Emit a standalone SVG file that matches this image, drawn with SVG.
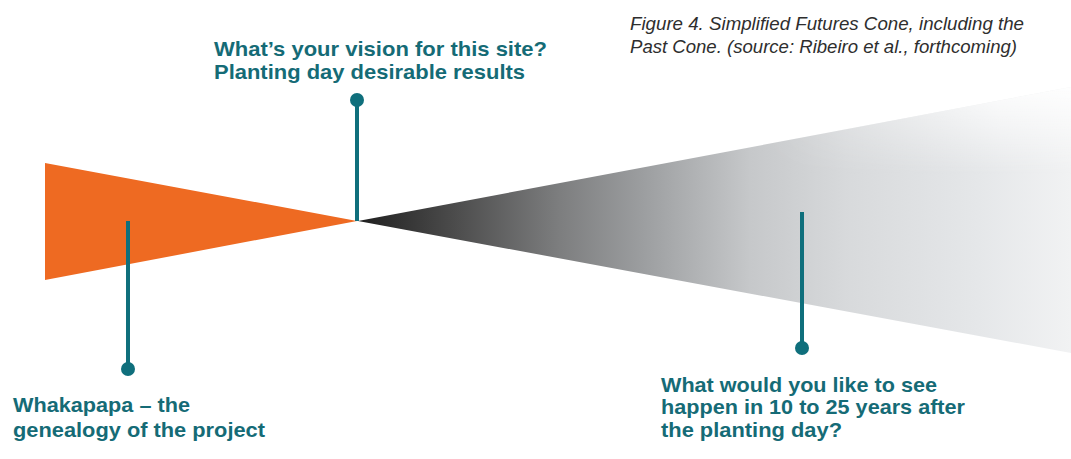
<svg xmlns="http://www.w3.org/2000/svg" width="1071" height="459" viewBox="0 0 1071 459">
<defs>
<linearGradient id="futureGrad" gradientUnits="userSpaceOnUse" x1="358" y1="0" x2="1071" y2="0">
<stop offset="0" stop-color="#1f1f1f"/>
<stop offset="0.13" stop-color="#4a4a4a"/>
<stop offset="0.28" stop-color="#7c7d7e"/>
<stop offset="0.4" stop-color="#9c9ea0"/>
<stop offset="0.55" stop-color="#c6c8ca"/>
<stop offset="0.69" stop-color="#d8dadc"/>
<stop offset="0.87" stop-color="#e5e7e9"/>
<stop offset="1" stop-color="#f1f2f3"/>
</linearGradient>
<linearGradient id="topFade" gradientUnits="userSpaceOnUse" x1="0" y1="87" x2="0" y2="175">
<stop offset="0" stop-color="#ffffff" stop-opacity="0.9"/>
<stop offset="1" stop-color="#ffffff" stop-opacity="0"/>
</linearGradient>
<linearGradient id="fadeMaskGrad" gradientUnits="userSpaceOnUse" x1="760" y1="0" x2="1000" y2="0">
<stop offset="0" stop-color="#000000"/>
<stop offset="1" stop-color="#ffffff"/>
</linearGradient>
<mask id="fadeMask" maskUnits="userSpaceOnUse" x="0" y="0" width="1071" height="459">
<rect x="0" y="0" width="1071" height="459" fill="url(#fadeMaskGrad)"/>
</mask>
<clipPath id="coneClip">
<polygon points="358,221 1071,87 1071,353"/>
</clipPath>
</defs>
<style>
.label{font-family:"Liberation Sans",Arial,sans-serif;font-weight:bold;font-size:21px;fill:#156b76}
.caption{font-family:"Liberation Sans",Arial,sans-serif;font-style:italic;font-size:18px;fill:#2e2e2e}
.pin{stroke:#0f6f7c;stroke-width:4;fill:none}
.dot{fill:#0f6f7c}
</style>
<rect width="1071" height="459" fill="#ffffff"/>

<g id="caption">
<text class="caption" x="630" y="30" textLength="394" lengthAdjust="spacingAndGlyphs">Figure 4. Simplified Futures Cone, including the</text>
<text class="caption" x="630" y="53" textLength="387" lengthAdjust="spacingAndGlyphs">Past Cone. (source: Ribeiro et al., forthcoming)</text>
</g>

<g id="past-cone">
<polygon points="45,163 357,221 45,280" fill="#ee6a22"/>
</g>

<g id="future-cone">
<polygon points="358,221 1071,87 1071,353" fill="url(#futureGrad)"/>
<g clip-path="url(#coneClip)">
<rect x="700" y="80" width="371" height="100" fill="url(#topFade)" mask="url(#fadeMask)"/>
</g>
</g>

<g id="connectors">
<line class="pin" x1="357" y1="100" x2="357" y2="221"/>
<line class="pin" x1="128" y1="221" x2="128" y2="369"/>
<line class="pin" x1="802" y1="212" x2="802" y2="348"/>
</g>

<g id="present-node">
<circle class="dot" cx="357" cy="100" r="7"/>
<text class="label" x="214" y="56" textLength="333" lengthAdjust="spacingAndGlyphs">What’s your vision for this site?</text>
<text class="label" x="214" y="79" textLength="311" lengthAdjust="spacingAndGlyphs">Planting day desirable results</text>
</g>

<g id="past-node">
<circle class="dot" cx="128" cy="369" r="7"/>
<text class="label" x="13" y="412" textLength="177" lengthAdjust="spacingAndGlyphs">Whakapapa – the</text>
<text class="label" x="13" y="437" textLength="252" lengthAdjust="spacingAndGlyphs">genealogy of the project</text>
</g>

<g id="future-node">
<circle class="dot" cx="802" cy="348" r="7"/>
<text class="label" x="661" y="392" textLength="276" lengthAdjust="spacingAndGlyphs">What would you like to see</text>
<text class="label" x="661" y="414" textLength="304" lengthAdjust="spacingAndGlyphs">happen in 10 to 25 years after</text>
<text class="label" x="661" y="437" textLength="181" lengthAdjust="spacingAndGlyphs">the planting day?</text>
</g>
</svg>
